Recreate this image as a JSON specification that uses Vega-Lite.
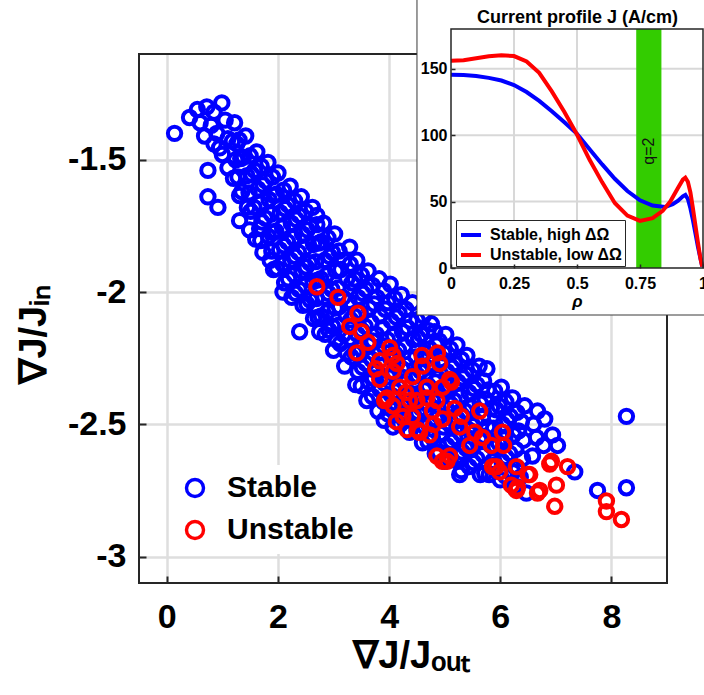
{
  "$schema": "https://vega.github.io/schema/vega-lite/v6.json",
  "width": 528,
  "height": 529,
  "autosize": {"type": "none"},
  "padding": {"left": 139, "top": 54, "right": 37, "bottom": 112},
  "background": "white",
  "config": {
    "font": "Liberation Sans",
    "view": {"stroke": null},
    "axis": {"labelFlush": false}
  },
  "datasets": {
    "pts": [
      {"s":"Stable","x":0.14,"y":-1.40},{"s":"Stable","x":0.41,"y":-1.34},{"s":"Stable","x":0.55,"y":-1.31},{"s":"Stable","x":0.72,"y":-1.30},
      {"s":"Stable","x":0.85,"y":-1.32},{"s":"Stable","x":0.99,"y":-1.285},{"s":"Stable","x":0.68,"y":-1.41},{"s":"Stable","x":0.60,"y":-1.36},
      {"s":"Stable","x":0.80,"y":-1.37},{"s":"Stable","x":0.95,"y":-1.455},{"s":"Stable","x":0.90,"y":-1.40},{"s":"Stable","x":1.05,"y":-1.35},
      {"s":"Stable","x":1.10,"y":-1.42},{"s":"Stable","x":0.74,"y":-1.54},{"s":"Stable","x":0.74,"y":-1.64},{"s":"Stable","x":0.92,"y":-1.68},
      {"s":"Stable","x":1.10,"y":-1.53},{"s":"Stable","x":1.26,"y":-1.44},{"s":"Stable","x":1.00,"y":-1.48},{"s":"Stable","x":0.85,"y":-1.44},
      {"s":"Stable","x":1.22,"y":-1.36},{"s":"Stable","x":1.18,"y":-1.43},{"s":"Stable","x":1.24,"y":-1.50},{"s":"Stable","x":1.20,"y":-1.57},
      {"s":"Stable","x":1.42,"y":-1.41},{"s":"Stable","x":1.38,"y":-1.49},{"s":"Stable","x":1.44,"y":-1.56},{"s":"Stable","x":1.35,"y":-1.62},
      {"s":"Stable","x":1.31,"y":-1.73},{"s":"Stable","x":1.45,"y":-1.68},
      {"s":"Stable","x":1.62,"y":-1.47},{"s":"Stable","x":1.58,"y":-1.54},{"s":"Stable","x":1.64,"y":-1.61},{"s":"Stable","x":1.57,"y":-1.68},
      {"s":"Stable","x":1.67,"y":-1.76},{"s":"Stable","x":1.60,"y":-1.80},
      {"s":"Stable","x":1.82,"y":-1.51},{"s":"Stable","x":1.78,"y":-1.58},{"s":"Stable","x":1.84,"y":-1.65},{"s":"Stable","x":1.77,"y":-1.72},
      {"s":"Stable","x":1.83,"y":-1.79},{"s":"Stable","x":1.73,"y":-1.85},{"s":"Stable","x":1.86,"y":-1.88},
      {"s":"Stable","x":2.00,"y":-1.55},{"s":"Stable","x":1.97,"y":-1.63},{"s":"Stable","x":2.04,"y":-1.70},{"s":"Stable","x":1.96,"y":-1.77},
      {"s":"Stable","x":2.03,"y":-1.84},{"s":"Stable","x":1.98,"y":-1.91},{"s":"Stable","x":2.09,"y":-2.00},
      {"s":"Stable","x":2.22,"y":-1.60},{"s":"Stable","x":2.18,"y":-1.67},{"s":"Stable","x":2.24,"y":-1.74},{"s":"Stable","x":2.17,"y":-1.81},
      {"s":"Stable","x":2.23,"y":-1.88},{"s":"Stable","x":2.19,"y":-1.95},{"s":"Stable","x":2.25,"y":-2.02},
      {"s":"Stable","x":2.42,"y":-1.64},{"s":"Stable","x":2.38,"y":-1.71},{"s":"Stable","x":2.44,"y":-1.78},{"s":"Stable","x":2.37,"y":-1.85},
      {"s":"Stable","x":2.43,"y":-1.92},{"s":"Stable","x":2.38,"y":-1.99},{"s":"Stable","x":2.45,"y":-2.05},{"s":"Stable","x":2.39,"y":-2.15},
      {"s":"Stable","x":2.62,"y":-1.68},{"s":"Stable","x":2.70,"y":-1.71},{"s":"Stable","x":2.58,"y":-1.75},{"s":"Stable","x":2.64,"y":-1.82},
      {"s":"Stable","x":2.57,"y":-1.89},{"s":"Stable","x":2.63,"y":-1.96},{"s":"Stable","x":2.58,"y":-2.03},{"s":"Stable","x":2.64,"y":-2.10},
      {"s":"Stable","x":2.82,"y":-1.74},{"s":"Stable","x":2.78,"y":-1.81},{"s":"Stable","x":2.84,"y":-1.88},{"s":"Stable","x":2.77,"y":-1.95},
      {"s":"Stable","x":2.83,"y":-2.02},{"s":"Stable","x":2.78,"y":-2.09},{"s":"Stable","x":2.75,"y":-2.15},{"s":"Stable","x":2.85,"y":-2.16},
      {"s":"Stable","x":3.02,"y":-1.78},{"s":"Stable","x":2.98,"y":-1.85},{"s":"Stable","x":3.04,"y":-1.92},{"s":"Stable","x":2.97,"y":-1.99},
      {"s":"Stable","x":3.03,"y":-2.06},{"s":"Stable","x":2.98,"y":-2.13},{"s":"Stable","x":3.00,"y":-2.22},{"s":"Stable","x":3.05,"y":-2.18},
      {"s":"Stable","x":3.29,"y":-1.83},{"s":"Stable","x":3.18,"y":-1.88},{"s":"Stable","x":3.24,"y":-1.95},{"s":"Stable","x":3.17,"y":-2.02},
      {"s":"Stable","x":3.23,"y":-2.09},{"s":"Stable","x":3.18,"y":-2.16},{"s":"Stable","x":3.24,"y":-2.23},{"s":"Stable","x":3.20,"y":-2.28},
      {"s":"Stable","x":3.42,"y":-1.88},{"s":"Stable","x":3.38,"y":-1.95},{"s":"Stable","x":3.44,"y":-2.02},{"s":"Stable","x":3.37,"y":-2.09},
      {"s":"Stable","x":3.43,"y":-2.16},{"s":"Stable","x":3.38,"y":-2.23},{"s":"Stable","x":3.44,"y":-2.30},{"s":"Stable","x":3.40,"y":-2.35},
      {"s":"Stable","x":3.62,"y":-1.92},{"s":"Stable","x":3.58,"y":-1.99},{"s":"Stable","x":3.64,"y":-2.06},{"s":"Stable","x":3.57,"y":-2.13},
      {"s":"Stable","x":3.63,"y":-2.20},{"s":"Stable","x":3.58,"y":-2.27},{"s":"Stable","x":3.64,"y":-2.34},{"s":"Stable","x":3.60,"y":-2.41},
      {"s":"Stable","x":3.82,"y":-1.95},{"s":"Stable","x":3.78,"y":-2.02},{"s":"Stable","x":3.84,"y":-2.09},{"s":"Stable","x":3.77,"y":-2.16},
      {"s":"Stable","x":3.83,"y":-2.23},{"s":"Stable","x":3.78,"y":-2.30},{"s":"Stable","x":3.84,"y":-2.37},{"s":"Stable","x":3.80,"y":-2.45},
      {"s":"Stable","x":4.02,"y":-1.97},{"s":"Stable","x":3.98,"y":-2.04},{"s":"Stable","x":4.04,"y":-2.11},{"s":"Stable","x":3.97,"y":-2.18},
      {"s":"Stable","x":4.03,"y":-2.25},{"s":"Stable","x":3.98,"y":-2.32},{"s":"Stable","x":4.04,"y":-2.39},{"s":"Stable","x":3.98,"y":-2.46},
      {"s":"Stable","x":4.07,"y":-2.51},
      {"s":"Stable","x":4.22,"y":-2.01},{"s":"Stable","x":4.18,"y":-2.08},{"s":"Stable","x":4.24,"y":-2.15},{"s":"Stable","x":4.17,"y":-2.22},
      {"s":"Stable","x":4.23,"y":-2.29},{"s":"Stable","x":4.18,"y":-2.36},{"s":"Stable","x":4.24,"y":-2.43},{"s":"Stable","x":4.20,"y":-2.50},
      {"s":"Stable","x":4.42,"y":-2.04},{"s":"Stable","x":4.38,"y":-2.11},{"s":"Stable","x":4.44,"y":-2.18},{"s":"Stable","x":4.37,"y":-2.25},
      {"s":"Stable","x":4.43,"y":-2.32},{"s":"Stable","x":4.38,"y":-2.39},{"s":"Stable","x":4.44,"y":-2.46},{"s":"Stable","x":4.37,"y":-2.53},
      {"s":"Stable","x":4.62,"y":-2.09},{"s":"Stable","x":4.58,"y":-2.16},{"s":"Stable","x":4.64,"y":-2.23},{"s":"Stable","x":4.57,"y":-2.30},
      {"s":"Stable","x":4.63,"y":-2.37},{"s":"Stable","x":4.58,"y":-2.44},{"s":"Stable","x":4.64,"y":-2.51},{"s":"Stable","x":4.60,"y":-2.57},
      {"s":"Stable","x":4.82,"y":-2.15},{"s":"Stable","x":4.76,"y":-2.12},{"s":"Stable","x":4.84,"y":-2.20},{"s":"Stable","x":4.77,"y":-2.27},
      {"s":"Stable","x":4.83,"y":-2.34},{"s":"Stable","x":4.78,"y":-2.41},{"s":"Stable","x":4.84,"y":-2.48},{"s":"Stable","x":4.78,"y":-2.55},
      {"s":"Stable","x":4.83,"y":-2.61},
      {"s":"Stable","x":5.02,"y":-2.16},{"s":"Stable","x":4.98,"y":-2.23},{"s":"Stable","x":5.04,"y":-2.30},{"s":"Stable","x":4.97,"y":-2.37},
      {"s":"Stable","x":5.03,"y":-2.44},{"s":"Stable","x":4.98,"y":-2.51},{"s":"Stable","x":5.04,"y":-2.58},{"s":"Stable","x":5.00,"y":-2.64},
      {"s":"Stable","x":5.22,"y":-2.20},{"s":"Stable","x":5.18,"y":-2.27},{"s":"Stable","x":5.24,"y":-2.34},{"s":"Stable","x":5.17,"y":-2.41},
      {"s":"Stable","x":5.23,"y":-2.48},{"s":"Stable","x":5.18,"y":-2.55},{"s":"Stable","x":5.24,"y":-2.62},{"s":"Stable","x":5.27,"y":-2.69},
      {"s":"Stable","x":5.40,"y":-2.24},{"s":"Stable","x":5.38,"y":-2.31},{"s":"Stable","x":5.44,"y":-2.38},{"s":"Stable","x":5.37,"y":-2.45},
      {"s":"Stable","x":5.43,"y":-2.52},{"s":"Stable","x":5.38,"y":-2.59},{"s":"Stable","x":5.44,"y":-2.66},
      {"s":"Stable","x":5.62,"y":-2.28},{"s":"Stable","x":5.58,"y":-2.35},{"s":"Stable","x":5.64,"y":-2.42},{"s":"Stable","x":5.57,"y":-2.49},
      {"s":"Stable","x":5.63,"y":-2.56},{"s":"Stable","x":5.58,"y":-2.63},{"s":"Stable","x":5.64,"y":-2.69},
      {"s":"Stable","x":5.76,"y":-2.29},{"s":"Stable","x":5.78,"y":-2.37},{"s":"Stable","x":5.84,"y":-2.44},{"s":"Stable","x":5.77,"y":-2.51},
      {"s":"Stable","x":5.83,"y":-2.58},{"s":"Stable","x":5.80,"y":-2.69},{"s":"Stable","x":5.86,"y":-2.64},
      {"s":"Stable","x":6.02,"y":-2.36},{"s":"Stable","x":5.98,"y":-2.43},{"s":"Stable","x":6.04,"y":-2.50},{"s":"Stable","x":5.97,"y":-2.57},
      {"s":"Stable","x":6.03,"y":-2.64},{"s":"Stable","x":6.00,"y":-2.71},
      {"s":"Stable","x":6.22,"y":-2.40},{"s":"Stable","x":6.18,"y":-2.47},{"s":"Stable","x":6.24,"y":-2.54},{"s":"Stable","x":6.17,"y":-2.61},
      {"s":"Stable","x":6.23,"y":-2.68},{"s":"Stable","x":6.26,"y":-2.74},
      {"s":"Stable","x":6.38,"y":-2.49},{"s":"Stable","x":6.44,"y":-2.43},{"s":"Stable","x":6.42,"y":-2.56},{"s":"Stable","x":6.47,"y":-2.76},
      {"s":"Stable","x":6.40,"y":-2.63},{"s":"Stable","x":6.36,"y":-2.70},
      {"s":"Stable","x":6.67,"y":-2.45},{"s":"Stable","x":6.65,"y":-2.55},{"s":"Stable","x":6.60,"y":-2.50},{"s":"Stable","x":6.58,"y":-2.62},
      {"s":"Stable","x":6.94,"y":-2.54},{"s":"Stable","x":6.80,"y":-2.48},{"s":"Stable","x":6.78,"y":-2.58},
      {"s":"Stable","x":7.03,"y":-2.58},{"s":"Stable","x":7.34,"y":-2.68},
      {"s":"Stable","x":7.75,"y":-2.75},{"s":"Stable","x":8.27,"y":-2.47},{"s":"Stable","x":8.27,"y":-2.74},
      {"s":"Stable","x":1.30,"y":-1.425},{"s":"Stable","x":1.33,"y":-1.495},{"s":"Stable","x":1.28,"y":-1.565},{"s":"Stable","x":1.31,"y":-1.635},
      {"s":"Stable","x":1.50,"y":-1.485},{"s":"Stable","x":1.53,"y":-1.555},{"s":"Stable","x":1.48,"y":-1.625},{"s":"Stable","x":1.51,"y":-1.695},{"s":"Stable","x":1.49,"y":-1.765},
      {"s":"Stable","x":1.70,"y":-1.525},{"s":"Stable","x":1.73,"y":-1.595},{"s":"Stable","x":1.68,"y":-1.665},{"s":"Stable","x":1.71,"y":-1.735},{"s":"Stable","x":1.69,"y":-1.805},
      {"s":"Stable","x":1.90,"y":-1.565},{"s":"Stable","x":1.93,"y":-1.635},{"s":"Stable","x":1.88,"y":-1.705},{"s":"Stable","x":1.91,"y":-1.775},{"s":"Stable","x":1.89,"y":-1.845},{"s":"Stable","x":1.92,"y":-1.915},
      {"s":"Stable","x":2.10,"y":-1.615},{"s":"Stable","x":2.13,"y":-1.685},{"s":"Stable","x":2.08,"y":-1.755},{"s":"Stable","x":2.11,"y":-1.825},{"s":"Stable","x":2.09,"y":-1.895},{"s":"Stable","x":2.12,"y":-1.965},
      {"s":"Stable","x":2.30,"y":-1.655},{"s":"Stable","x":2.33,"y":-1.725},{"s":"Stable","x":2.28,"y":-1.795},{"s":"Stable","x":2.31,"y":-1.865},{"s":"Stable","x":2.29,"y":-1.935},{"s":"Stable","x":2.32,"y":-2.005},
      {"s":"Stable","x":2.50,"y":-1.695},{"s":"Stable","x":2.53,"y":-1.765},{"s":"Stable","x":2.48,"y":-1.835},{"s":"Stable","x":2.51,"y":-1.905},{"s":"Stable","x":2.49,"y":-1.975},{"s":"Stable","x":2.52,"y":-2.045},
      {"s":"Stable","x":2.70,"y":-1.745},{"s":"Stable","x":2.73,"y":-1.815},{"s":"Stable","x":2.68,"y":-1.885},{"s":"Stable","x":2.71,"y":-1.955},{"s":"Stable","x":2.69,"y":-2.025},{"s":"Stable","x":2.72,"y":-2.095},
      {"s":"Stable","x":2.90,"y":-1.795},{"s":"Stable","x":2.93,"y":-1.865},{"s":"Stable","x":2.88,"y":-1.935},{"s":"Stable","x":2.91,"y":-2.005},{"s":"Stable","x":2.89,"y":-2.075},{"s":"Stable","x":2.92,"y":-2.145},
      {"s":"Stable","x":3.10,"y":-1.845},{"s":"Stable","x":3.13,"y":-1.915},{"s":"Stable","x":3.08,"y":-1.985},{"s":"Stable","x":3.11,"y":-2.055},{"s":"Stable","x":3.09,"y":-2.125},{"s":"Stable","x":3.12,"y":-2.195},
      {"s":"Stable","x":3.30,"y":-1.895},{"s":"Stable","x":3.33,"y":-1.965},{"s":"Stable","x":3.28,"y":-2.035},{"s":"Stable","x":3.31,"y":-2.105},{"s":"Stable","x":3.29,"y":-2.175},{"s":"Stable","x":3.32,"y":-2.245},
      {"s":"Stable","x":3.50,"y":-1.935},{"s":"Stable","x":3.53,"y":-2.005},{"s":"Stable","x":3.48,"y":-2.075},{"s":"Stable","x":3.51,"y":-2.145},{"s":"Stable","x":3.49,"y":-2.215},{"s":"Stable","x":3.52,"y":-2.285},{"s":"Stable","x":3.50,"y":-2.355},
      {"s":"Stable","x":3.70,"y":-1.975},{"s":"Stable","x":3.73,"y":-2.045},{"s":"Stable","x":3.68,"y":-2.115},{"s":"Stable","x":3.71,"y":-2.185},{"s":"Stable","x":3.69,"y":-2.255},{"s":"Stable","x":3.72,"y":-2.325},{"s":"Stable","x":3.70,"y":-2.395},
      {"s":"Stable","x":3.90,"y":-1.995},{"s":"Stable","x":3.93,"y":-2.065},{"s":"Stable","x":3.88,"y":-2.135},{"s":"Stable","x":3.91,"y":-2.205},{"s":"Stable","x":3.89,"y":-2.275},{"s":"Stable","x":3.92,"y":-2.345},{"s":"Stable","x":3.90,"y":-2.415},{"s":"Stable","x":3.91,"y":-2.485},
      {"s":"Stable","x":4.10,"y":-2.025},{"s":"Stable","x":4.13,"y":-2.095},{"s":"Stable","x":4.08,"y":-2.165},{"s":"Stable","x":4.11,"y":-2.235},{"s":"Stable","x":4.09,"y":-2.305},{"s":"Stable","x":4.12,"y":-2.375},{"s":"Stable","x":4.10,"y":-2.445},
      {"s":"Stable","x":4.30,"y":-2.065},{"s":"Stable","x":4.33,"y":-2.135},{"s":"Stable","x":4.28,"y":-2.205},{"s":"Stable","x":4.31,"y":-2.275},{"s":"Stable","x":4.29,"y":-2.345},{"s":"Stable","x":4.32,"y":-2.415},{"s":"Stable","x":4.30,"y":-2.485},
      {"s":"Stable","x":4.50,"y":-2.105},{"s":"Stable","x":4.53,"y":-2.175},{"s":"Stable","x":4.48,"y":-2.245},{"s":"Stable","x":4.51,"y":-2.315},{"s":"Stable","x":4.49,"y":-2.385},{"s":"Stable","x":4.52,"y":-2.455},{"s":"Stable","x":4.50,"y":-2.525},
      {"s":"Stable","x":4.70,"y":-2.145},{"s":"Stable","x":4.73,"y":-2.215},{"s":"Stable","x":4.68,"y":-2.285},{"s":"Stable","x":4.71,"y":-2.355},{"s":"Stable","x":4.69,"y":-2.425},{"s":"Stable","x":4.72,"y":-2.495},{"s":"Stable","x":4.70,"y":-2.565},
      {"s":"Stable","x":4.90,"y":-2.185},{"s":"Stable","x":4.93,"y":-2.255},{"s":"Stable","x":4.88,"y":-2.325},{"s":"Stable","x":4.91,"y":-2.395},{"s":"Stable","x":4.89,"y":-2.465},{"s":"Stable","x":4.92,"y":-2.535},{"s":"Stable","x":4.90,"y":-2.605},
      {"s":"Stable","x":5.10,"y":-2.215},{"s":"Stable","x":5.13,"y":-2.285},{"s":"Stable","x":5.08,"y":-2.355},{"s":"Stable","x":5.11,"y":-2.425},{"s":"Stable","x":5.09,"y":-2.495},{"s":"Stable","x":5.12,"y":-2.565},{"s":"Stable","x":5.10,"y":-2.635},
      {"s":"Stable","x":5.30,"y":-2.255},{"s":"Stable","x":5.33,"y":-2.325},{"s":"Stable","x":5.28,"y":-2.395},{"s":"Stable","x":5.31,"y":-2.465},{"s":"Stable","x":5.29,"y":-2.535},{"s":"Stable","x":5.32,"y":-2.605},{"s":"Stable","x":5.30,"y":-2.675},
      {"s":"Stable","x":5.50,"y":-2.295},{"s":"Stable","x":5.53,"y":-2.365},{"s":"Stable","x":5.48,"y":-2.435},{"s":"Stable","x":5.51,"y":-2.505},{"s":"Stable","x":5.49,"y":-2.575},{"s":"Stable","x":5.52,"y":-2.645},
      {"s":"Stable","x":5.70,"y":-2.335},{"s":"Stable","x":5.73,"y":-2.405},{"s":"Stable","x":5.68,"y":-2.475},{"s":"Stable","x":5.71,"y":-2.545},{"s":"Stable","x":5.69,"y":-2.615},{"s":"Stable","x":5.72,"y":-2.685},
      {"s":"Stable","x":5.90,"y":-2.375},{"s":"Stable","x":5.93,"y":-2.445},{"s":"Stable","x":5.88,"y":-2.515},{"s":"Stable","x":5.91,"y":-2.585},{"s":"Stable","x":5.89,"y":-2.655},
      {"s":"Stable","x":6.10,"y":-2.415},{"s":"Stable","x":6.13,"y":-2.485},{"s":"Stable","x":6.08,"y":-2.555},{"s":"Stable","x":6.11,"y":-2.625},{"s":"Stable","x":6.09,"y":-2.695},
      {"s":"Stable","x":6.30,"y":-2.455},{"s":"Stable","x":6.33,"y":-2.525},{"s":"Stable","x":6.28,"y":-2.595},{"s":"Stable","x":6.31,"y":-2.665},{"s":"Stable","x":6.29,"y":-2.735},
      {"s":"Unstable","x":2.70,"y":-1.98},{"s":"Unstable","x":3.08,"y":-2.02},{"s":"Unstable","x":3.44,"y":-2.08},{"s":"Unstable","x":3.29,"y":-2.13},
      {"s":"Unstable","x":3.50,"y":-2.15},{"s":"Unstable","x":3.62,"y":-2.19},{"s":"Unstable","x":3.42,"y":-2.23},{"s":"Unstable","x":3.76,"y":-2.29},
      {"s":"Unstable","x":3.83,"y":-2.26},{"s":"Unstable","x":3.83,"y":-2.33},{"s":"Unstable","x":4.01,"y":-2.21},{"s":"Unstable","x":4.07,"y":-2.24},
      {"s":"Unstable","x":4.14,"y":-2.27},{"s":"Unstable","x":4.07,"y":-2.30},{"s":"Unstable","x":3.92,"y":-2.41},{"s":"Unstable","x":4.07,"y":-2.43},
      {"s":"Unstable","x":4.13,"y":-2.49},{"s":"Unstable","x":4.19,"y":-2.36},{"s":"Unstable","x":4.25,"y":-2.47},{"s":"Unstable","x":4.32,"y":-2.52},
      {"s":"Unstable","x":4.37,"y":-2.41},{"s":"Unstable","x":4.42,"y":-2.32},{"s":"Unstable","x":4.42,"y":-2.47},{"s":"Unstable","x":4.51,"y":-2.52},
      {"s":"Unstable","x":4.55,"y":-2.53},{"s":"Unstable","x":4.59,"y":-2.24},{"s":"Unstable","x":4.60,"y":-2.28},{"s":"Unstable","x":4.68,"y":-2.36},
      {"s":"Unstable","x":4.68,"y":-2.40},{"s":"Unstable","x":4.73,"y":-2.54},{"s":"Unstable","x":4.78,"y":-2.45},{"s":"Unstable","x":4.86,"y":-2.41},
      {"s":"Unstable","x":4.87,"y":-2.23},{"s":"Unstable","x":4.91,"y":-2.27},{"s":"Unstable","x":4.96,"y":-2.36},{"s":"Unstable","x":4.96,"y":-2.48},
      {"s":"Unstable","x":4.86,"y":-2.62},{"s":"Unstable","x":4.96,"y":-2.64},{"s":"Unstable","x":5.09,"y":-2.62},{"s":"Unstable","x":5.04,"y":-2.64},
      {"s":"Unstable","x":5.09,"y":-2.33},{"s":"Unstable","x":5.12,"y":-2.34},{"s":"Unstable","x":5.18,"y":-2.44},{"s":"Unstable","x":5.27,"y":-2.51},
      {"s":"Unstable","x":5.45,"y":-2.58},{"s":"Unstable","x":5.54,"y":-2.53},{"s":"Unstable","x":5.63,"y":-2.45},{"s":"Unstable","x":5.68,"y":-2.55},
      {"s":"Unstable","x":5.84,"y":-2.58},{"s":"Unstable","x":5.86,"y":-2.66},{"s":"Unstable","x":5.93,"y":-2.66},{"s":"Unstable","x":5.99,"y":-2.68},
      {"s":"Unstable","x":6.04,"y":-2.53},{"s":"Unstable","x":6.06,"y":-2.58},{"s":"Unstable","x":6.20,"y":-2.73},{"s":"Unstable","x":6.29,"y":-2.66},
      {"s":"Unstable","x":6.31,"y":-2.74},{"s":"Unstable","x":6.29,"y":-2.75},{"s":"Unstable","x":6.50,"y":-2.69},{"s":"Unstable","x":6.53,"y":-2.69},
      {"s":"Unstable","x":6.67,"y":-2.76},{"s":"Unstable","x":6.71,"y":-2.75},{"s":"Unstable","x":6.89,"y":-2.65},{"s":"Unstable","x":6.92,"y":-2.64},
      {"s":"Unstable","x":6.98,"y":-2.81},{"s":"Unstable","x":7.01,"y":-2.73},{"s":"Unstable","x":7.21,"y":-2.66},{"s":"Unstable","x":7.91,"y":-2.79},
      {"s":"Unstable","x":7.91,"y":-2.83},{"s":"Unstable","x":8.18,"y":-2.86},{"s":"Unstable","x":4.50,"y":-2.41},{"s":"Unstable","x":3.96,"y":-2.40},
      {"s":"Unstable","x":5.30,"y":-2.47},{"s":"Unstable","x":4.30,"y":-2.38},{"s":"Unstable","x":4.80,"y":-2.50}
    ],
    "prof": [
      {"c":"Stable, high ΔΩ","r":0,"j":145.5},{"c":"Stable, high ΔΩ","r":0.05,"j":145.3},{"c":"Stable, high ΔΩ","r":0.1,"j":144.6},
      {"c":"Stable, high ΔΩ","r":0.15,"j":143.2},{"c":"Stable, high ΔΩ","r":0.2,"j":141.2},{"c":"Stable, high ΔΩ","r":0.25,"j":137.8},
      {"c":"Stable, high ΔΩ","r":0.3,"j":132.5},{"c":"Stable, high ΔΩ","r":0.35,"j":125.8},{"c":"Stable, high ΔΩ","r":0.4,"j":118},
      {"c":"Stable, high ΔΩ","r":0.45,"j":109.7},{"c":"Stable, high ΔΩ","r":0.5,"j":101},{"c":"Stable, high ΔΩ","r":0.55,"j":89.5},
      {"c":"Stable, high ΔΩ","r":0.6,"j":78},{"c":"Stable, high ΔΩ","r":0.65,"j":67.2},{"c":"Stable, high ΔΩ","r":0.7,"j":58},
      {"c":"Stable, high ΔΩ","r":0.75,"j":51},{"c":"Stable, high ΔΩ","r":0.8,"j":47},{"c":"Stable, high ΔΩ","r":0.85,"j":46},
      {"c":"Stable, high ΔΩ","r":0.88,"j":48},{"c":"Stable, high ΔΩ","r":0.9,"j":50.5},{"c":"Stable, high ΔΩ","r":0.92,"j":54},
      {"c":"Stable, high ΔΩ","r":0.93,"j":55},{"c":"Stable, high ΔΩ","r":0.94,"j":52},{"c":"Stable, high ΔΩ","r":0.95,"j":45},
      {"c":"Stable, high ΔΩ","r":0.96,"j":36},{"c":"Stable, high ΔΩ","r":0.97,"j":26},{"c":"Stable, high ΔΩ","r":0.98,"j":16},
      {"c":"Stable, high ΔΩ","r":0.99,"j":7},{"c":"Stable, high ΔΩ","r":0.997,"j":1},
      {"c":"Unstable, low ΔΩ","r":0,"j":156},{"c":"Unstable, low ΔΩ","r":0.05,"j":156.5},{"c":"Unstable, low ΔΩ","r":0.1,"j":158},
      {"c":"Unstable, low ΔΩ","r":0.15,"j":159.5},{"c":"Unstable, low ΔΩ","r":0.2,"j":160.3},{"c":"Unstable, low ΔΩ","r":0.25,"j":159.6},
      {"c":"Unstable, low ΔΩ","r":0.3,"j":155.5},{"c":"Unstable, low ΔΩ","r":0.35,"j":147},{"c":"Unstable, low ΔΩ","r":0.4,"j":133},
      {"c":"Unstable, low ΔΩ","r":0.45,"j":117.5},{"c":"Unstable, low ΔΩ","r":0.5,"j":100.5},{"c":"Unstable, low ΔΩ","r":0.55,"j":81.5},
      {"c":"Unstable, low ΔΩ","r":0.6,"j":64.5},{"c":"Unstable, low ΔΩ","r":0.65,"j":49},{"c":"Unstable, low ΔΩ","r":0.7,"j":39.5},
      {"c":"Unstable, low ΔΩ","r":0.75,"j":35.5},{"c":"Unstable, low ΔΩ","r":0.8,"j":37.5},{"c":"Unstable, low ΔΩ","r":0.84,"j":43},
      {"c":"Unstable, low ΔΩ","r":0.87,"j":50},{"c":"Unstable, low ΔΩ","r":0.9,"j":60},{"c":"Unstable, low ΔΩ","r":0.92,"j":66.5},
      {"c":"Unstable, low ΔΩ","r":0.93,"j":68},{"c":"Unstable, low ΔΩ","r":0.94,"j":65},{"c":"Unstable, low ΔΩ","r":0.95,"j":57},
      {"c":"Unstable, low ΔΩ","r":0.96,"j":45},{"c":"Unstable, low ΔΩ","r":0.97,"j":32},{"c":"Unstable, low ΔΩ","r":0.98,"j":19},
      {"c":"Unstable, low ΔΩ","r":0.99,"j":7},{"c":"Unstable, low ΔΩ","r":0.997,"j":1}
    ],
    "q": [{"r1":0.735,"r2":0.835,"rm":0.787,"t":"q=2"}],
    "gr": [{"r":0.25},{"r":0.5},{"r":0.75}],
    "gj": [{"j":50},{"j":100},{"j":150}]
  },
  "layer": [
    {
      "data": {"name": "pts"},
      "mark": {"type": "point", "filled": false, "shape": "circle", "size": 180, "strokeWidth": 4, "opacity": 1},
      "encoding": {
        "x": {"field": "x", "type": "quantitative",
          "scale": {"domain": [-0.5, 9], "nice": false, "zero": false},
          "axis": {"orient": "bottom", "values": [0, 2, 4, 6, 8], "format": ".0f", "grid": true, "gridColor": "#dedede", "gridWidth": 2.5,
            "domain": false, "tickSize": -7, "tickWidth": 2, "tickColor": "#262626",
            "labelFontSize": 34, "labelFontWeight": "bold", "labelColor": "black", "labelPadding": 24,
            "title": "∇J/Jₒᵤₜ", "titleX": 272, "titleFontSize": 38, "titleFontWeight": "bold", "titleColor": "black", "titlePadding": 3}},
        "y": {"field": "y", "type": "quantitative",
          "scale": {"domain": [-3.1, -1.1], "nice": false, "zero": false},
          "axis": {"orient": "left", "values": [-3, -2.5, -2, -1.5], "format": ".1~f", "labelExpr": "replace(datum.label, '−', '-')",
            "grid": true, "gridColor": "#dedede", "gridWidth": 2.5,
            "domain": false, "tickSize": -7, "tickWidth": 2, "tickColor": "#262626",
            "labelFontSize": 34, "labelFontWeight": "bold", "labelColor": "black", "labelPadding": 20,
            "title": "∇J/Jᵢₙ", "titleY": 280, "titleFontSize": 38, "titleFontWeight": "bold", "titleColor": "black", "titlePadding": 14}},
        "color": {"field": "s", "type": "nominal",
          "scale": {"domain": ["Stable", "Unstable"], "range": ["#0000ff", "#ff0000"]},
          "legend": {"orient": "none", "legendX": 33, "legendY": 411, "title": null, "symbolType": "circle", "symbolSize": 290,
            "symbolStrokeWidth": 3.4, "labelFontSize": 30, "labelFontWeight": "bold", "labelColor": "black", "labelOffset": 17,
            "padding": 8, "rowPadding": 10, "fillColor": "white"}}
      }
    },
    {
      "data": {"values": [{}]},
      "mark": {"type": "rect", "fillOpacity": 0, "stroke": "#262626", "strokeWidth": 2},
      "encoding": {
        "x": {"datum": -0.5, "type": "quantitative", "scale": {"domain": [-0.5, 9], "nice": false, "zero": false}, "axis": null},
        "x2": {"datum": 9},
        "y": {"datum": -3.1, "type": "quantitative", "scale": {"domain": [-3.1, -1.1], "nice": false, "zero": false}, "axis": null},
        "y2": {"datum": -1.1}
      }
    },
    {
      "data": {"values": [{}]},
      "mark": {"type": "rect", "fill": "white", "stroke": "#3a3a3a", "strokeWidth": 1},
      "encoding": {
        "x": {"datum": -0.135, "type": "quantitative", "scale": {"domain": [0, 1], "range": [312, 564], "nice": false, "zero": false}, "axis": null},
        "x2": {"datum": 1.03},
        "y": {"datum": -35.4, "type": "quantitative", "scale": {"domain": [0, 180], "range": [214, -25], "nice": false, "zero": false}, "axis": null},
        "y2": {"datum": 205}
      }
    },
    {
      "data": {"name": "gr"},
      "mark": {"type": "rule", "stroke": "#d8d8d8", "strokeWidth": 2},
      "encoding": {
        "x": {"field": "r", "type": "quantitative", "scale": {"domain": [0, 1], "range": [312, 564], "nice": false, "zero": false}, "axis": null},
        "y": {"datum": 0, "type": "quantitative", "scale": {"domain": [0, 180], "range": [214, -25], "nice": false, "zero": false}, "axis": null},
        "y2": {"datum": 180}
      }
    },
    {
      "data": {"name": "gj"},
      "mark": {"type": "rule", "stroke": "#d8d8d8", "strokeWidth": 2},
      "encoding": {
        "y": {"field": "j", "type": "quantitative", "scale": {"domain": [0, 180], "range": [214, -25], "nice": false, "zero": false}, "axis": null},
        "x": {"datum": 0, "type": "quantitative", "scale": {"domain": [0, 1], "range": [312, 564], "nice": false, "zero": false}, "axis": null},
        "x2": {"datum": 1}
      }
    },
    {
      "data": {"name": "q"},
      "mark": {"type": "rect", "fill": "#33cc00"},
      "encoding": {
        "x": {"field": "r1", "type": "quantitative", "scale": {"domain": [0, 1], "range": [312, 564], "nice": false, "zero": false}, "axis": null},
        "x2": {"field": "r2"},
        "y": {"datum": 0, "type": "quantitative", "scale": {"domain": [0, 180], "range": [214, -25], "nice": false, "zero": false}, "axis": null},
        "y2": {"datum": 180}
      }
    },
    {
      "data": {"name": "q"},
      "mark": {"type": "text", "angle": 270, "fontSize": 16, "color": "#111111", "align": "center", "baseline": "middle"},
      "encoding": {
        "x": {"field": "rm", "type": "quantitative", "scale": {"domain": [0, 1], "range": [312, 564], "nice": false, "zero": false}, "axis": null},
        "y": {"datum": 88, "type": "quantitative", "scale": {"domain": [0, 180], "range": [214, -25], "nice": false, "zero": false}, "axis": null},
        "text": {"field": "t"}
      }
    },
    {
      "data": {"name": "prof"},
      "mark": {"type": "line", "strokeWidth": 4},
      "encoding": {
        "x": {"field": "r", "type": "quantitative", "scale": {"domain": [0, 1], "range": [312, 564], "nice": false, "zero": false},
          "axis": {"orient": "bottom", "offset": -315, "values": [0, 0.25, 0.5, 0.75, 1], "format": ".2~f", "grid": false, "domain": false,
            "tickSize": -4, "tickWidth": 1.5, "tickColor": "#262626", "labelFontSize": 16, "labelFontWeight": "bold", "labelColor": "black",
            "labelPadding": 11, "title": "ρ", "titleFontSize": 17, "titleFontWeight": "bold", "titleFontStyle": "italic", "titleColor": "black",
            "titlePadding": 2, "zindex": 2}},
        "y": {"field": "j", "type": "quantitative", "scale": {"domain": [0, 180], "range": [214, -25], "nice": false, "zero": false},
          "axis": {"orient": "left", "offset": -312, "values": [0, 50, 100, 150], "format": "d", "grid": false, "domain": false,
            "tickSize": -4, "tickWidth": 1.5, "tickColor": "#262626", "labelFontSize": 16, "labelFontWeight": "bold", "labelColor": "black",
            "labelPadding": 8, "title": null, "zindex": 2}},
        "stroke": {"field": "c", "type": "nominal",
          "scale": {"domain": ["Stable, high ΔΩ", "Unstable, low ΔΩ"], "range": ["#0000ff", "#ff0000"]},
          "legend": {"orient": "none", "legendX": 317, "legendY": 166, "title": null, "symbolType": "stroke", "symbolSize": 400,
            "symbolStrokeWidth": 4, "labelFontSize": 16, "labelFontWeight": "bold", "labelColor": "black", "labelOffset": 7,
            "padding": 3, "rowPadding": 0, "strokeColor": "#262626", "fillColor": "white"}}
      }
    },
    {
      "data": {"values": [{}]},
      "mark": {"type": "rect", "fillOpacity": 0, "stroke": "#262626", "strokeWidth": 1.5},
      "encoding": {
        "x": {"datum": 0, "type": "quantitative", "scale": {"domain": [0, 1], "range": [312, 564], "nice": false, "zero": false},
          "axis": {"orient": "top", "offset": 25, "labels": false, "ticks": false, "domain": false, "grid": false,
            "title": "Current profile J (A/cm)", "titleFontSize": 18, "titleFontWeight": "bold", "titleColor": "black", "titlePadding": 3, "zindex": 2}},
        "x2": {"datum": 1},
        "y": {"datum": 0, "type": "quantitative", "scale": {"domain": [0, 180], "range": [214, -25], "nice": false, "zero": false}, "axis": null},
        "y2": {"datum": 180}
      }
    }
  ],
  "resolve": {"scale": {"x": "independent", "y": "independent"}}
}
